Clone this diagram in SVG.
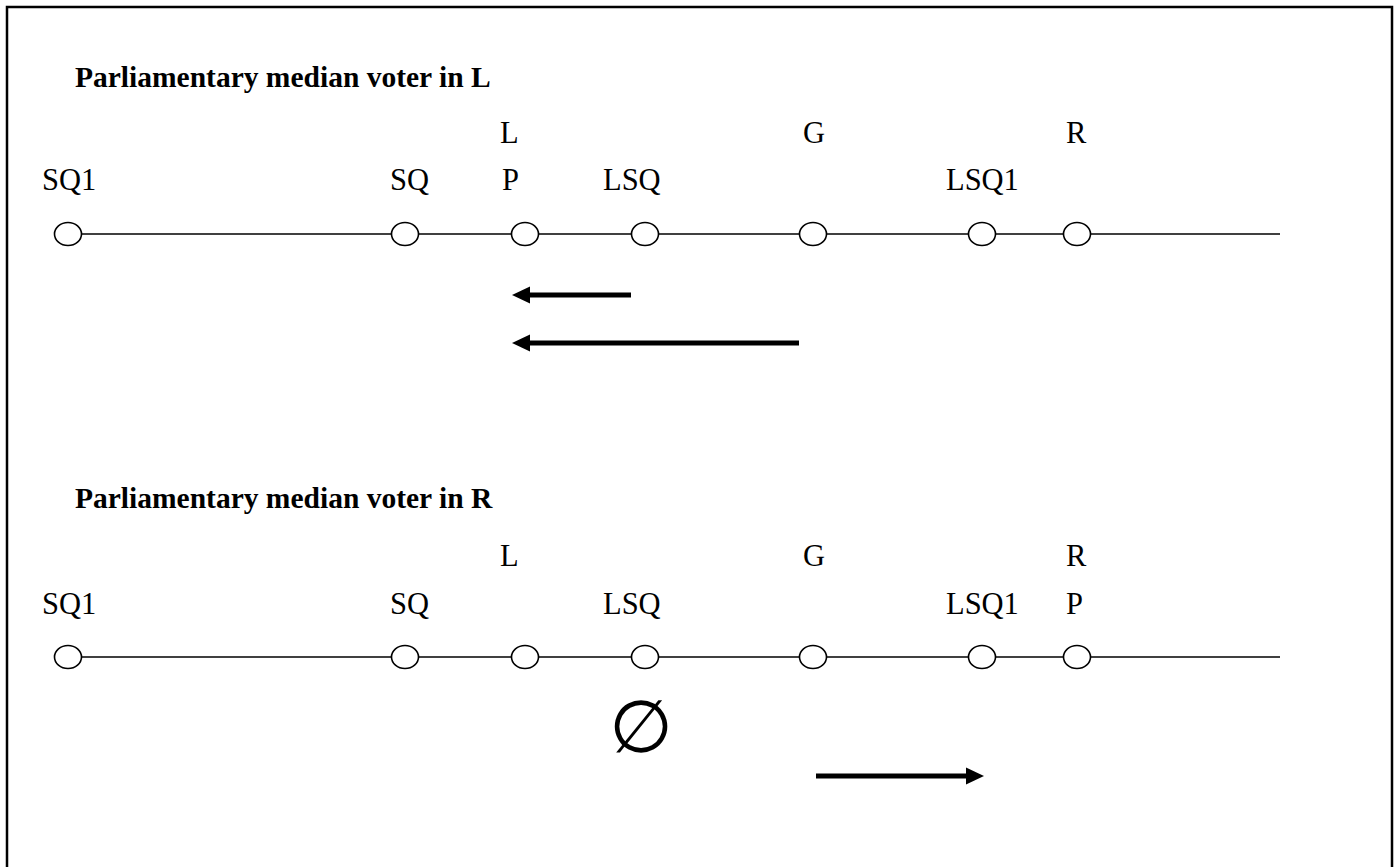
<svg xmlns="http://www.w3.org/2000/svg" width="1396" height="867" viewBox="0 0 1396 867">
  <defs>
    <style>
      .frame { fill: none; stroke: #000; stroke-width: 2.5; }
      .axis { stroke: #000; stroke-width: 1.6; }
      .pt { fill: #fff; stroke: #000; stroke-width: 1.6; }
      .head { font-family: "Liberation Serif", "Times New Roman", serif; font-weight: bold; font-size: 29.5px; fill: #000; }
      .lbl { font-family: "Liberation Serif", "Times New Roman", serif; font-size: 30.5px; fill: #000; }
      .move { stroke: #000; stroke-width: 5; fill: none; marker-end: url(#tip); }
      .empty { font-family: "DejaVu Sans", sans-serif; font-size: 73px; fill: #000; }
    </style>
    <marker id="tip" markerUnits="userSpaceOnUse" markerWidth="19" markerHeight="18" refX="0" refY="8.5" orient="auto" overflow="visible">
      <path d="M0,0 L18,8.5 L0,17 z" fill="#000"/>
    </marker>
  </defs>

  <rect class="frame" x="7" y="7" width="1385" height="900"/>

  <!-- Upper panel: median voter in L -->
  <text class="head" x="75" y="87">Parliamentary median voter in L</text>
  <line class="axis" x1="81" y1="234" x2="1280" y2="234"/>

  <g id="u-sq1"><ellipse class="pt" cx="68" cy="234" rx="13.5" ry="11.5"/><text class="lbl" x="42" y="190">SQ1</text></g>
  <g id="u-sq"><ellipse class="pt" cx="405" cy="234" rx="13.5" ry="11.5"/><text class="lbl" x="390" y="190">SQ</text></g>
  <g id="u-l"><ellipse class="pt" cx="525" cy="234" rx="13.5" ry="11.5"/><text class="lbl" x="500" y="143">L</text><text class="lbl" x="502" y="190">P</text></g>
  <g id="u-lsq"><ellipse class="pt" cx="645" cy="234" rx="13.5" ry="11.5"/><text class="lbl" x="603" y="190">LSQ</text></g>
  <g id="u-g"><ellipse class="pt" cx="813" cy="234" rx="13.5" ry="11.5"/><text class="lbl" x="803" y="143">G</text></g>
  <g id="u-lsq1"><ellipse class="pt" cx="982" cy="234" rx="13.5" ry="11.5"/><text class="lbl" x="946" y="190">LSQ1</text></g>
  <g id="u-r"><ellipse class="pt" cx="1077" cy="234" rx="13.5" ry="11.5"/><text class="lbl" x="1066" y="143">R</text></g>

  <!-- Lower panel: median voter in R -->
  <text class="head" x="75" y="508">Parliamentary median voter in R</text>
  <line class="axis" x1="81" y1="657" x2="1280" y2="657"/>

  <g id="d-sq1"><ellipse class="pt" cx="68" cy="657" rx="13.5" ry="11.5"/><text class="lbl" x="42" y="614">SQ1</text></g>
  <g id="d-sq"><ellipse class="pt" cx="405" cy="657" rx="13.5" ry="11.5"/><text class="lbl" x="390" y="614">SQ</text></g>
  <g id="d-l"><ellipse class="pt" cx="525" cy="657" rx="13.5" ry="11.5"/><text class="lbl" x="500" y="566">L</text></g>
  <g id="d-lsq"><ellipse class="pt" cx="645" cy="657" rx="13.5" ry="11.5"/><text class="lbl" x="603" y="614">LSQ</text></g>
  <g id="d-g"><ellipse class="pt" cx="813" cy="657" rx="13.5" ry="11.5"/><text class="lbl" x="803" y="566">G</text></g>
  <g id="d-lsq1"><ellipse class="pt" cx="982" cy="657" rx="13.5" ry="11.5"/><text class="lbl" x="946" y="614">LSQ1</text></g>
  <g id="d-r"><ellipse class="pt" cx="1077" cy="657" rx="13.5" ry="11.5"/><text class="lbl" x="1066" y="566">R</text><text class="lbl" x="1066" y="614">P</text></g>

  <text class="empty" x="641" y="752" text-anchor="middle">∅</text>

  <!-- Policy moves -->
  <g id="connectors">
    <line class="move" x1="631" y1="295" x2="530" y2="295"/>
    <line class="move" x1="799" y1="343" x2="530" y2="343"/>
    <line class="move" x1="816" y1="776" x2="966" y2="776"/>
  </g>
</svg>
